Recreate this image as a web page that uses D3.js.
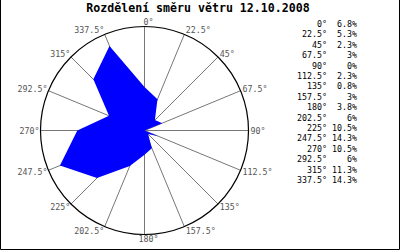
<!DOCTYPE html>
<html>
<meta charset="utf-8">
<head>
<script src="https://d3js.org/d3.v7.min.js"></script>
<style>
  body { margin: 0; background: #fff; }
  svg text { font-family: "DejaVu Sans Mono", "Liberation Mono", monospace; }
</style>
</head>
<body>
<script>
// smery (stupne) a podil v procentech
var directions = [0, 22.5, 45, 67.5, 90, 112.5, 135, 157.5, 180, 202.5, 225, 247.5, 270, 292.5, 315, 337.5];
var shares = [6.8, 5.3, 2.3, 3, 0, 2.3, 0.8, 3, 3.8, 6, 10.5, 14.3, 10.5, 6, 11.3, 14.3];
var dirLabels = ["0°", "22.5°", "45°", "67.5°", "90°", "112.5°", "135°", "157.5°",
                 "180°", "202.5°", "225°", "247.5°", "270°", "292.5°", "315°", "337.5°"];
var shareLabels = ["6.8%", "5.3%", "2.3%", "3%", "0%", "2.3%", "0.8%", "3%",
                   "3.8%", "6%", "10.5%", "14.3%", "10.5%", "6%", "11.3%", "14.3%"];
var title = "Rozdělení směru větru 12.10.2008";

var width = 400, height = 250;
var cx = 144.5, cy = 130.5, R = 104;

var svg = d3.select("body").append("svg")
  .attr("width", width)
  .attr("height", height);

// ramecek
svg.append("path")
  .attr("d", "M0.5,0 V249.5 H399.5 V0")
  .attr("fill", "none")
  .attr("stroke", "#000");

svg.append("text")
  .attr("x", 198)
  .attr("y", 12)
  .attr("text-anchor", "middle")
  .attr("font-size", "11.6px")
  .attr("font-weight", "bold")
  .attr("fill", "#000")
  .text(title);

var rScale = d3.scaleLinear().domain([0, 16.25]).range([0, R]);
var angle = function (deg) { return deg * Math.PI / 180; };

var g = svg.append("g").attr("transform", "translate(" + cx + "," + cy + ")");

// paprsky
g.selectAll("line.axis")
  .data(directions)
  .join("line")
  .attr("class", "axis")
  .attr("x1", 0).attr("y1", 0)
  .attr("x2", function (d) { return R * Math.sin(angle(d)); })
  .attr("y2", function (d) { return -R * Math.cos(angle(d)); })
  .attr("stroke", "#777")
  .attr("stroke-width", 1);

// plocha
var radial = d3.lineRadial()
  .angle(function (d, i) { return angle(directions[i]); })
  .radius(function (d) { return rScale(d); })
  .curve(d3.curveLinearClosed);

g.append("path")
  .attr("d", radial(shares))
  .attr("fill", "#0000ff")
  .attr("stroke", "none");

g.append("circle")
  .attr("r", R)
  .attr("fill", "none")
  .attr("stroke", "#000")
  .attr("stroke-width", 1.2);

// popisky smeru
g.selectAll("text.dir")
  .data(directions)
  .join("text")
  .attr("class", "dir")
  .attr("font-size", "8.3px")
  .attr("fill", "#555")
  .attr("dominant-baseline", "central")
  .attr("text-anchor", function (d) {
    var s = Math.sin(angle(d));
    return s > 0.01 ? "start" : (s < -0.01 ? "end" : "middle");
  })
  .attr("x", function (d) {
    var s = Math.sin(angle(d));
    var x = (R + 1) * s;
    if (Math.abs(s) < 0.01) x += 4;
    if (s > 0.01) x += 1;
    return x;
  })
  .attr("y", function (d) { return -R * Math.cos(angle(d)) - 4.5 * Math.cos(angle(d)); })
  .text(function (d, i) { return dirLabels[i]; });

// legenda
var rowY = d3.scaleLinear().domain([0, 15]).range([24, 180]);

svg.selectAll("text.legdir")
  .data(dirLabels)
  .join("text")
  .attr("class", "legdir")
  .attr("x", 327)
  .attr("y", function (d, i) { return rowY(i); })
  .attr("text-anchor", "end")
  .attr("dominant-baseline", "central")
  .attr("font-size", "8.3px")
  .attr("fill", "#000")
  .text(function (d) { return d; });

svg.selectAll("text.legval")
  .data(shareLabels)
  .join("text")
  .attr("class", "legval")
  .attr("x", 357)
  .attr("y", function (d, i) { return rowY(i); })
  .attr("text-anchor", "end")
  .attr("dominant-baseline", "central")
  .attr("font-size", "8.3px")
  .attr("fill", "#000")
  .text(function (d) { return d; });
</script>
</body>
</html>
